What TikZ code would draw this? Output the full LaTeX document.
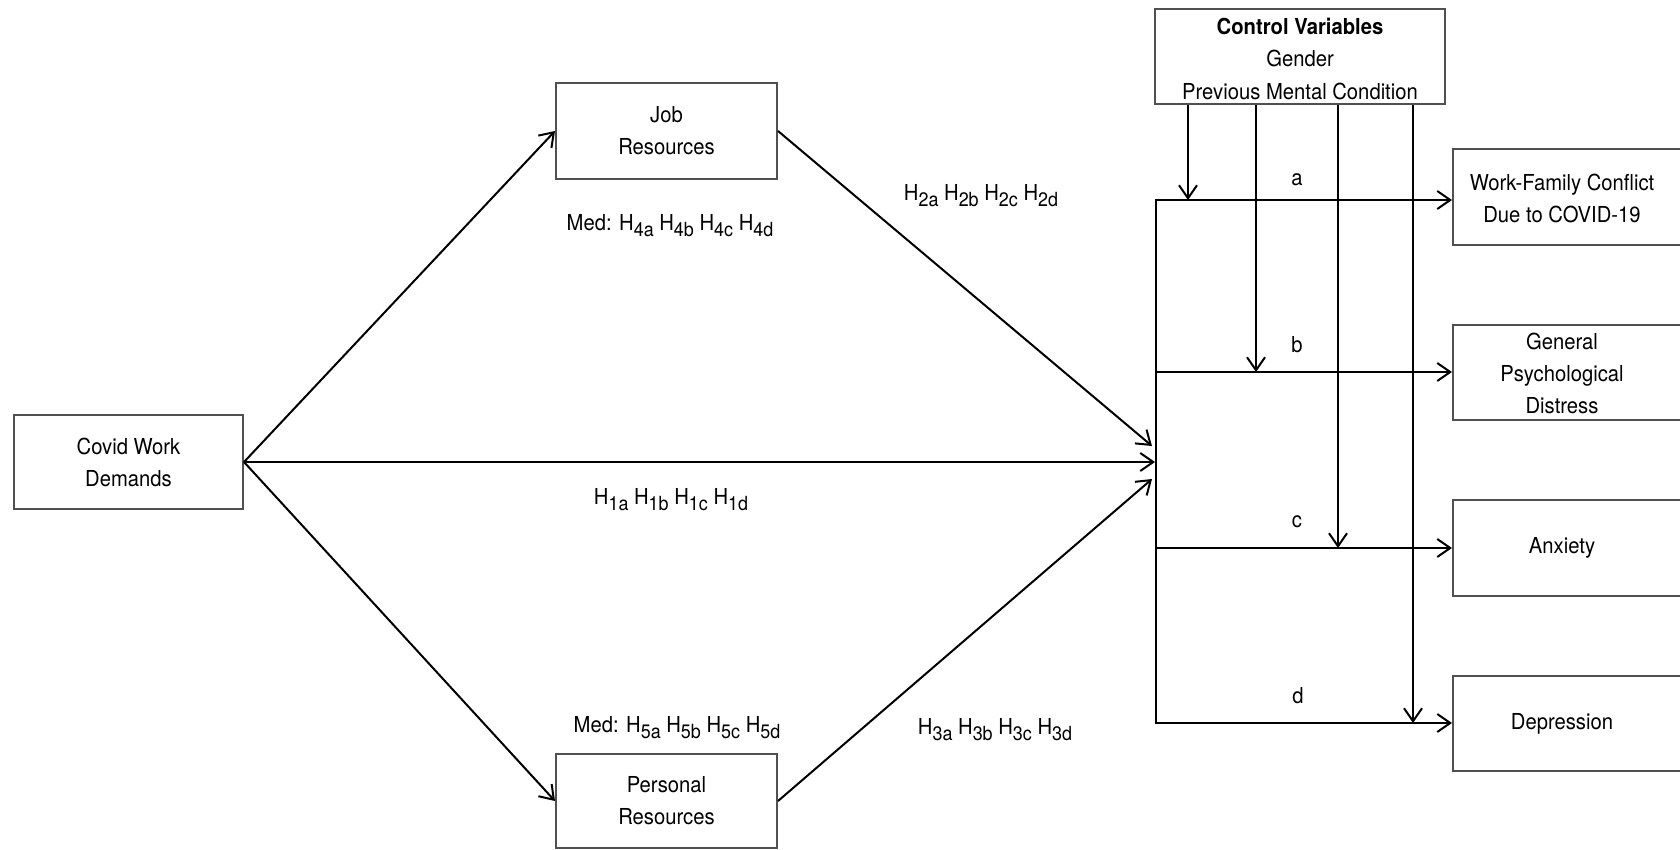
\documentclass[tikz,border=0pt]{standalone}
\usepackage{fontspec}
\setmainfont{TeX Gyre Heros}[FakeStretch=0.92]
\usetikzlibrary{arrows.meta}
\definecolor{boxgray}{HTML}{505050}
\newcommand{\Hsub}[1]{H\raisebox{-6pt}{\fontsize{19.5}{19.5}\selectfont #1}}
\begin{document}
\begin{tikzpicture}[x=1pt,y=-1pt,
  box/.style={draw=boxgray, line width=2pt, inner sep=0pt, align=center, font=\fontsize{22}{32}\selectfont},
  txt/.style={inner sep=0pt, align=center, font=\fontsize{22}{32}\selectfont},
  conn/.style={line width=2pt, -{Straight Barb[length=13pt,width=18pt]}},
  plainline/.style={line width=2pt, line cap=rect},
]
\useasboundingbox (0,0) rectangle (1680,849);
\fill[white] (0,0) rectangle (1680,849);

% left and middle boxes
\node[box, minimum width=229pt, minimum height=94pt] (covid) at (128.5,462) {Covid Work\\Demands};
\node[box, minimum width=221pt, minimum height=96pt] (job) at (666.5,131) {Job\\Resources};
\node[box, minimum width=221pt, minimum height=94pt] (pers) at (666.5,801) {Personal\\Resources};

% control box
\node[box, minimum width=290pt, minimum height=95pt] (ctrl) at (1300,56.5) {};
\node[txt] (ctrlt) at (1300,59) {\textbf{Control Variables}\\Gender\\Previous Mental Condition};

% outcome boxes (cut by the right edge)
\node[box, anchor=west, minimum width=260pt, minimum height=96pt] (wfc) at (1452,197) {};
\node[txt] (wfct) at (1562,198) {Work-Family Conflict\\Due to COVID-19};
\node[box, anchor=west, minimum width=260pt, minimum height=95pt] (gpd) at (1452,372.5) {};
\node[txt] (gpdt) at (1562,373) {General\\Psychological\\Distress};
\node[box, anchor=west, minimum width=260pt, minimum height=96pt] (anx) at (1452,548) {};
\node[txt] (anxt) at (1562,548) {Anxiety};
\node[box, anchor=west, minimum width=260pt, minimum height=95pt] (dep) at (1452,723.5) {};
\node[txt] (dept) at (1562,723.5) {Depression};

% bus coordinates
\coordinate (ta) at (1156,200);
\coordinate (tb) at (1156,372);
\coordinate (tc) at (1156,548);
\coordinate (td) at (1156,723);
\coordinate (conv) at (1155,462);
\coordinate (cj) at (1152,446);
\coordinate (cpr) at (1152,479);
\coordinate (ca) at (1188,200);
\coordinate (cb) at (1256,372);
\coordinate (cc) at (1338,548);
\coordinate (cd) at (1413,723);

% main paths
\draw[conn] (covid.east) -- (job.west);
\draw[conn] (covid.east) -- (pers.west);
\draw[conn] (covid.east) -- (conv);
\draw[conn] (job.east) -- (cj);
\draw[conn] (pers.east) -- (cpr);

% bus and outcome arrows
\draw[plainline] (ta) -- (td);
\draw[conn] (ta) -- (ta -| wfc.west);
\draw[conn] (tb) -- (tb -| gpd.west);
\draw[conn] (tc) -- (tc -| anx.west);
\draw[conn] (td) -- (td -| dep.west);

% control arrows
\draw[conn] (ctrl.south -| ca) -- (ca);
\draw[conn] (ctrl.south -| cb) -- (cb);
\draw[conn] (ctrl.south -| cc) -- (cc);
\draw[conn] (ctrl.south -| cd) -- (cd);

% letter labels
\node[txt] (la) at (1297,180) {a};
\node[txt] (lb) at (1297,345) {b};
\node[txt] (lc) at (1297,522) {c};
\node[txt] (ld) at (1298,696) {d};

% hypothesis labels
\node[txt] (h2) at (981,196) {\Hsub{2a} \Hsub{2b} \Hsub{2c} \Hsub{2d}};
\node[txt] (h4) at (670,226) {Med: \Hsub{4a} \Hsub{4b} \Hsub{4c} \Hsub{4d}};
\node[txt] (h1) at (671,500) {\Hsub{1a} \Hsub{1b} \Hsub{1c} \Hsub{1d}};
\node[txt] (h5) at (677,728) {Med: \Hsub{5a} \Hsub{5b} \Hsub{5c} \Hsub{5d}};
\node[txt] (h3) at (995,730) {\Hsub{3a} \Hsub{3b} \Hsub{3c} \Hsub{3d}};
\end{tikzpicture}
\end{document}
